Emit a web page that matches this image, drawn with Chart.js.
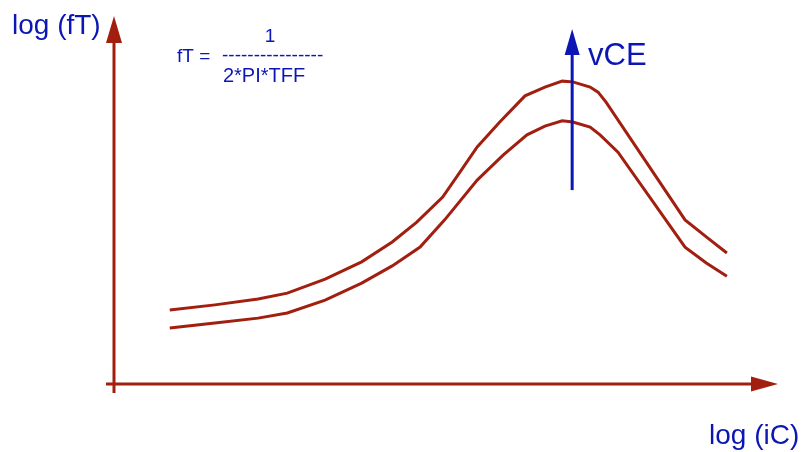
<!DOCTYPE html>
<html>
<head>
<meta charset="utf-8">
<title>fT versus iC</title>
<script src="https://cdn.jsdelivr.net/npm/chart.js@4.4.1/dist/chart.umd.min.js"></script>
<style>
  html, body { margin: 0; padding: 0; background: #ffffff; }
  #wrap { width: 803px; height: 452px; position: relative; }
</style>
</head>
<body>
<div id="wrap"><canvas id="ft"></canvas></div>
<script>
  // fT against log(iC), two vCE values (arbitrary log units, 0..10)
  var upperX = [0.84, 1.52, 2.17, 2.61, 3.18, 3.73, 4.19, 4.56, 4.95, 5.21, 5.47, 5.81, 6.19, 6.49, 6.75, 6.91, 7.17, 7.29, 7.41, 8.60, 8.92, 9.23];
  var upperY = [2.01, 2.15, 2.31, 2.47, 2.85, 3.32, 3.86, 4.40, 5.08, 5.76, 6.44, 7.12, 7.83, 8.07, 8.23, 8.21, 8.07, 7.93, 7.66, 4.46, 4.00, 3.56];

  var lowerX = [0.84, 1.52, 2.17, 2.61, 3.18, 3.73, 4.19, 4.61, 4.98, 5.47, 5.86, 6.22, 6.49, 6.75, 6.91, 7.17, 7.32, 7.59, 8.60, 8.92, 9.23];
  var lowerY = [1.52, 1.66, 1.79, 1.93, 2.28, 2.74, 3.21, 3.72, 4.46, 5.54, 6.22, 6.77, 7.01, 7.15, 7.12, 6.98, 6.77, 6.30, 3.72, 3.29, 2.93];

  var RED = '#a21f10';
  var BLUE = '#0c16b4';
  var FONT = "'Liberation Sans', Arial, sans-serif";

  // rising vCE marker, in data units
  var VCE_X = 6.90;
  var VCE_FROM = 5.27;
  var VCE_TO = 9.65;

  function toPoints(xs, ys) {
    return xs.map(function (x, i) { return { x: x, y: ys[i] }; });
  }

  function arrowHead(ctx, tipX, tipY, dx, dy, len, half) {
    // dx,dy: unit direction the arrow points to
    var bx = tipX - dx * len, by = tipY - dy * len;
    ctx.beginPath();
    ctx.moveTo(tipX, tipY);
    ctx.lineTo(bx - dy * half, by + dx * half);
    ctx.lineTo(bx + dy * half, by - dx * half);
    ctx.closePath();
    ctx.fill();
  }

  /* axes with arrow heads, the vCE arrow and the labels */
  var sketchPlugin = {
    id: 'sketch',
    afterDatasetsDraw: function (chart) {
      var ctx = chart.ctx;
      var xs = chart.scales.x, ys = chart.scales.y;
      var x0 = xs.getPixelForValue(0), x1 = xs.getPixelForValue(10);
      var y0 = ys.getPixelForValue(0), y1 = ys.getPixelForValue(10);

      ctx.save();
      ctx.strokeStyle = RED;
      ctx.fillStyle = RED;
      ctx.lineWidth = 3;
      ctx.lineCap = 'butt';

      ctx.beginPath();
      ctx.moveTo(x0, y0 + 9);
      ctx.lineTo(x0, y1 + 20);
      ctx.moveTo(x0 - 8, y0);
      ctx.lineTo(x1 - 20, y0);
      ctx.stroke();
      arrowHead(ctx, x0, y1, 0, -1, 27, 8);
      arrowHead(ctx, x1, y0, 1, 0, 27, 7.5);

      // vCE arrow
      var vx = xs.getPixelForValue(VCE_X);
      var va = ys.getPixelForValue(VCE_FROM), vb = ys.getPixelForValue(VCE_TO);
      ctx.strokeStyle = BLUE;
      ctx.fillStyle = BLUE;
      ctx.beginPath();
      ctx.moveTo(vx, va);
      ctx.lineTo(vx, vb + 20);
      ctx.stroke();
      arrowHead(ctx, vx, vb, 0, -1, 26, 7.5);

      // labels
      ctx.textBaseline = 'alphabetic';
      ctx.textAlign = 'left';
      ctx.font = '28px ' + FONT;
      ctx.fillText('log (fT)', 12, 34);
      ctx.fillText('log (iC)', 709, 444);
      ctx.font = '31px ' + FONT;
      ctx.fillText('vCE', 588, 65);

      ctx.font = '19px ' + FONT;
      ctx.fillText('fT =', 177, 62);
      ctx.fillText('----------------', 222, 61);
      ctx.textAlign = 'center';
      ctx.fillText('1', 270, 42);
      ctx.font = '20px ' + FONT;
      ctx.fillText('2*PI*TFF', 264, 82);
      ctx.restore();
    }
  };

  new Chart(document.getElementById('ft'), {
    type: 'line',
    data: {
      datasets: [
        { label: 'vCE high', data: toPoints(upperX, upperY) },
        { label: 'vCE low', data: toPoints(lowerX, lowerY) }
      ]
    },
    options: {
      responsive: true,
      maintainAspectRatio: false,
      animation: false,
      layout: { padding: { left: 114, right: 25, top: 16, bottom: 68 } },
      elements: {
        line: { borderColor: RED, borderWidth: 3, tension: 0, fill: false },
        point: { radius: 0, hoverRadius: 0 }
      },
      scales: {
        x: { type: 'linear', min: 0, max: 10, display: false },
        y: { type: 'linear', min: 0, max: 10, display: false }
      },
      plugins: {
        legend: { display: false },
        tooltip: { enabled: false }
      }
    },
    plugins: [sketchPlugin]
  });
</script>
</body>
</html>
